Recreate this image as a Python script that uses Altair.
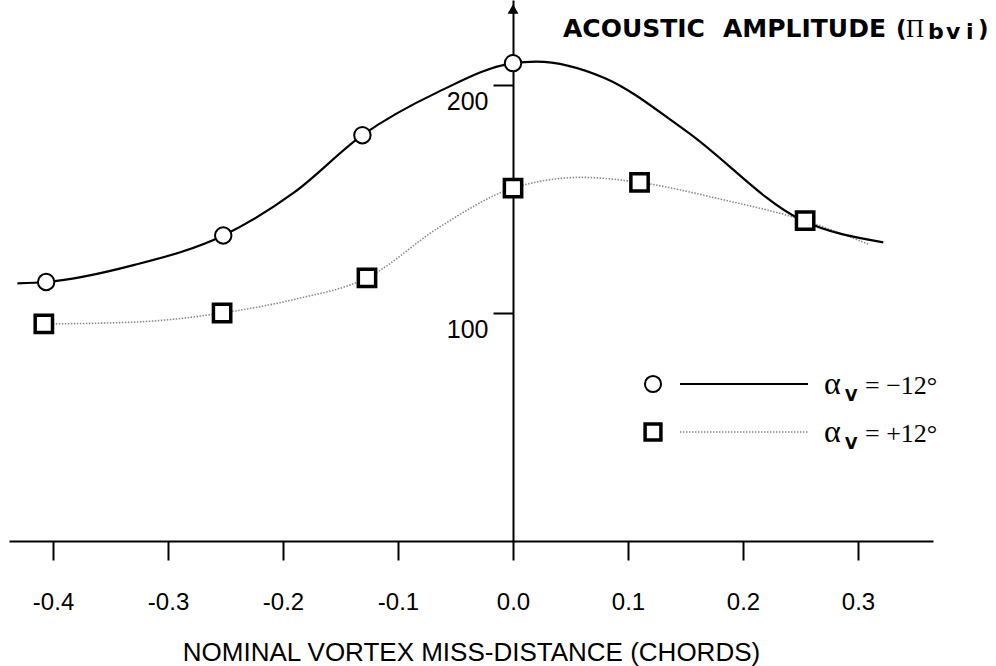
import altair as alt
import pandas as pd

# Measured points, alpha_v = -12 deg (circles)
circle_x = [-0.406, -0.252, -0.131, 0.0]
circle_y = [113.6, 134.0, 178.0, 209.6]

# Measured points, alpha_v = +12 deg (squares)
square_x = [-0.408, -0.253, -0.127, 0.0, 0.110, 0.254]
square_y = [95.2, 100.0, 115.4, 154.8, 157.3, 140.5]

# Faired curve through the -12 deg data
solid_x = [-0.431, -0.406, -0.33, -0.252, -0.19, -0.131, -0.065, 0.0, 0.02, 0.08, 0.15, 0.25, 0.322]
solid_y = [113.0, 113.6, 121.0, 134.0, 153.0, 178.0, 197.0, 209.6, 210.3, 203.0, 180.0, 141.0, 131.0]

# Faired curve through the +12 deg data
dotted_x = [-0.408, -0.33, -0.253, -0.19, -0.127, -0.063, 0.0, 0.06, 0.11, 0.18, 0.254, 0.31]
dotted_y = [95.2, 96.0, 100.0, 106.0, 115.4, 138.0, 154.8, 159.5, 157.3, 150.0, 140.5, 130.0]

x_ticks = [-0.4, -0.3, -0.2, -0.1, 0.0, 0.1, 0.2, 0.3]
y_ticks = [100, 200]
x_title = "NOMINAL VORTEX MISS-DISTANCE (CHORDS)"

circles = pd.DataFrame({"x": circle_x, "y": circle_y})
squares = pd.DataFrame({"x": square_x, "y": square_y})
solid = pd.DataFrame({"x": solid_x, "y": solid_y})
dotted = pd.DataFrame({"x": dotted_x, "y": dotted_y})

SANS = "Liberation Sans, Helvetica, Arial, sans-serif"
NARROW = "Liberation Sans Narrow, Liberation Sans, sans-serif"
SERIF = "Liberation Serif, Times New Roman, serif"
BOLD = "DejaVu Sans, sans-serif"

PLOT_W, PLOT_H = 924, 541
x_scale = alt.Scale(domain=[-0.4383, 0.3652], nice=False, zero=False)
y_scale = alt.Scale(domain=[0, 237.3], nice=False, zero=False)

x_axis = alt.Axis(
    values=x_ticks,
    labelExpr="replace(format(datum.value, '.1f'), '\u2212', '-')",
    orient="bottom", grid=False,
    domainColor="black", domainWidth=2,
    tickColor="black", tickWidth=2, tickSize=19,
    labelFont=NARROW, labelFontSize=24, labelColor="black", labelPadding=30,
    title=x_title, titleFont=SANS, titleFontSize=26, titleFontWeight="normal",
    titleColor="black", titlePadding=25,
)
y_axis = alt.Axis(
    values=y_ticks, format="d",
    orient="left", offset=-504, grid=False,
    domainColor="black", domainWidth=2,
    tickColor="black", tickWidth=2, tickSize=20,
    labelFont=SANS, labelFontSize=25, labelColor="black",
    labelPadding=5, labelOffset=16, title=None,
)

X = alt.X("x:Q", scale=x_scale, axis=x_axis)
Y = alt.Y("y:Q", scale=y_scale, axis=y_axis)

solid_line = alt.Chart(solid).mark_line(
    interpolate="monotone", color="black", strokeWidth=2.2
).encode(x=X, y=Y)

dotted_line = alt.Chart(dotted).mark_line(
    interpolate="monotone", color="#8a8a8a", strokeWidth=1.6, strokeDash=[1.5, 1.5]
).encode(x=X, y=Y)

circle_pts = alt.Chart(circles).mark_point(
    shape="circle", filled=True, fill="white", stroke="black", strokeWidth=2, size=270, opacity=1
).encode(x=X, y=Y)

square_pts = alt.Chart(squares).mark_point(
    shape="square", filled=True, fill="white", stroke="black", strokeWidth=3.5, size=300, opacity=1
).encode(x=X, y=Y)

# arrowhead on the vertical axis
arrow = alt.Chart(pd.DataFrame({"a": [0]})).mark_point(
    shape="triangle-up", filled=True, color="black", size=120, opacity=1
).encode(x=alt.X(datum=0.0, scale=x_scale), y=alt.value(9))

# legend, drawn by hand: symbol, line sample, label
def legend_row(ypix, symbol, dash, stroke, width, sign):
    d = pd.DataFrame({"a": [0]})
    sym = alt.Chart(d).mark_point(
        shape=symbol, filled=True, fill="white", stroke="black",
        strokeWidth=2 if symbol == "circle" else 3.5,
        size=260 if symbol == "circle" else 250, opacity=1
    ).encode(x=alt.value(653 - 9), y=alt.value(ypix))
    line_kw = dict(color=stroke, strokeWidth=width)
    if dash:
        line_kw["strokeDash"] = dash
    line = alt.Chart(d).mark_rule(**line_kw).encode(
        x=alt.value(680 - 9), x2=alt.value(808 - 9), y=alt.value(ypix)
    )
    alpha = alt.Chart(d).mark_text(
        text="\u03b1", font=SERIF, fontSize=32, align="left", baseline="alphabetic", color="black"
    ).encode(x=alt.value(824 - 9), y=alt.value(ypix + 10))
    sub = alt.Chart(d).mark_text(
        text="V", font=BOLD, fontSize=16, fontWeight="bold", align="left",
        baseline="alphabetic", color="black"
    ).encode(x=alt.value(845 - 9), y=alt.value(ypix + 17))
    rest = alt.Chart(d).mark_text(
        text="= " + sign + "12\u00b0", font=SERIF, fontSize=26, align="left",
        baseline="alphabetic", color="black"
    ).encode(x=alt.value(865 - 9), y=alt.value(ypix + 10))
    return [sym, line, alpha, sub, rest]

legend_layers = legend_row(384, "circle", None, "black", 2, "\u2212") + \
    legend_row(432, "square", [1.5, 1.5], "#8a8a8a", 1.6, "+")

# vertical axis title
def title_piece(text, xpix, ypix, font, size, weight="bold"):
    return alt.Chart(pd.DataFrame({"a": [0]})).mark_text(
        text=text, font=font, fontSize=size, fontWeight=weight,
        align="left", baseline="alphabetic", color="black"
    ).encode(x=alt.value(xpix - 9), y=alt.value(ypix))

title_layers = [
    title_piece("ACOUSTIC", 563, 37, BOLD, 25),
    title_piece("AMPLITUDE", 723, 37, BOLD, 25),
    title_piece("(", 896, 37, BOLD, 23),
    title_piece("\u03a0", 906, 37, SERIF, 25, "normal"),
    title_piece("b", 928, 39, BOLD, 22),
    title_piece("v", 946, 39, BOLD, 22),
    title_piece("i", 966, 39, BOLD, 22),
    title_piece(")", 978, 37, BOLD, 23),
]

chart = alt.layer(
    dotted_line, solid_line, square_pts, circle_pts, arrow,
    *legend_layers, *title_layers
).properties(
    width=PLOT_W, height=PLOT_H,
    padding={"left": 9, "top": 0, "right": 63, "bottom": 125},
    autosize=alt.AutoSizeParams(type="none"),
    background="white",
).configure_view(stroke=None)

chart.save("out.html", embed_options={"renderer": "svg", "actions": False})
